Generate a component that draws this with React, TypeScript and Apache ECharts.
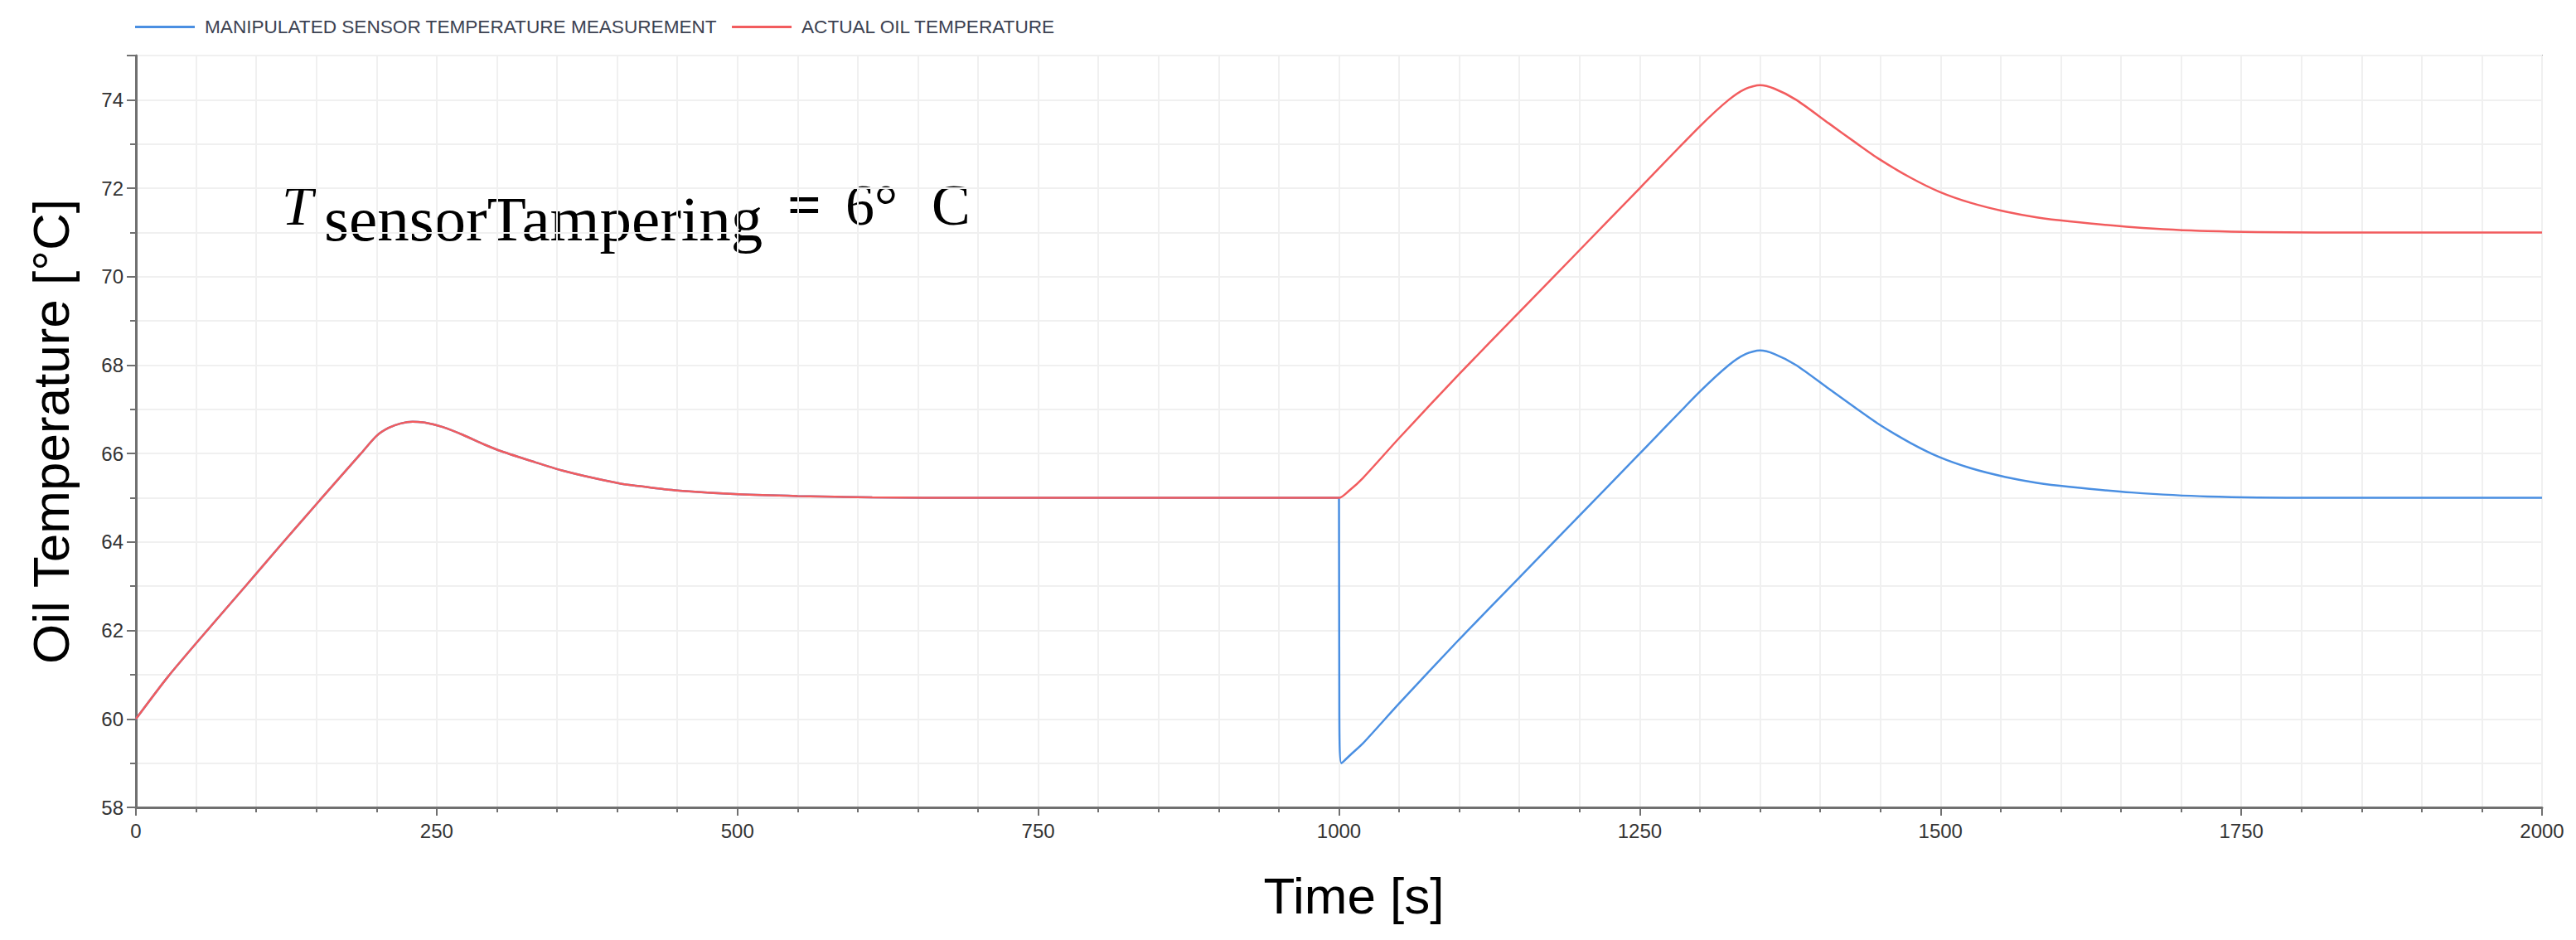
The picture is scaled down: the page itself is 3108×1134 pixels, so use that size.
import { useEffect, useRef } from 'react';
import * as echarts from 'echarts';

const WIDTH = 3108;
const HEIGHT = 1134;

const SENSOR_NAME = 'MANIPULATED SENSOR TEMPERATURE MEASUREMENT';
const ACTUAL_NAME = 'ACTUAL OIL TEMPERATURE';

const BLUE = '#4a8fe2';
const RED = '#f25c5e';

// actual oil temperature: time [s] / temperature [°C]
const actualTime = [
  0, 26.5, 57.6, 91, 121, 153, 187, 200, 210, 220, 230, 240, 255, 272, 290, 304, 330, 354, 380, 403,
  428, 452, 501, 550, 612, 700, 1000, 1008, 1020, 1050, 1100, 1150, 1200, 1250, 1300, 1324, 1338, 1350,
  1362, 1380, 1407, 1430, 1449, 1475, 1499, 1525, 1554, 1580, 1607, 1659, 1722, 1822, 2000
];
const actualTemp = [
  60, 60.95, 61.95, 63.0, 63.95, 64.95, 66.0, 66.4, 66.58, 66.68, 66.72, 66.7, 66.6, 66.42, 66.2, 66.05,
  65.82, 65.62, 65.45, 65.32, 65.23, 65.16, 65.08, 65.04, 65.01, 65.0, 65.0, 65.15, 65.45, 66.35, 67.8,
  69.2, 70.6, 72.0, 73.4, 74.0, 74.25, 74.33, 74.25, 74.0, 73.47, 73.02, 72.66, 72.24, 71.92, 71.67,
  71.47, 71.34, 71.25, 71.12, 71.03, 71.0, 71.0
];

// manipulated sensor measurement (same as actual until the tampering at 1000 s)
const sensorTime = [
  0, 26.5, 57.6, 91, 121, 153, 187, 200, 210, 220, 230, 240, 255, 272, 290, 304, 330, 354, 380, 403,
  428, 452, 501, 550, 612, 700, 1000, 1000.3, 1002, 1010, 1020, 1050, 1100, 1150, 1200, 1250, 1300, 1324,
  1338, 1350, 1362, 1380, 1407, 1430, 1449, 1475, 1499, 1525, 1554, 1580, 1607, 1659, 1722, 1822, 2000
];
const sensorTemp = [
  60, 60.95, 61.95, 63.0, 63.95, 64.95, 66.0, 66.4, 66.58, 66.68, 66.72, 66.7, 66.6, 66.42, 66.2, 66.05,
  65.82, 65.62, 65.45, 65.32, 65.23, 65.16, 65.08, 65.04, 65.01, 65.0, 65.0, 60.1, 59.0, 59.2, 59.45,
  60.35, 61.8, 63.2, 64.6, 66.0, 67.4, 68.0, 68.25, 68.33, 68.25, 68.0, 67.47, 67.02, 66.66, 66.24,
  65.92, 65.67, 65.47, 65.34, 65.25, 65.12, 65.03, 65.0, 65.0
];

const yLabels = [58, 60, 62, 64, 66, 68, 70, 72, 74];

const SANS = '"Liberation Sans", Arial, sans-serif';
const SERIF = '"Liberation Serif", "Times New Roman", serif';

function zip(xs: number[], ys: number[]) {
  return xs.map((x, i) => [x, ys[i]]);
}

function buildOption(): echarts.EChartsOption {
  const tickStyle = { color: '#707070', width: 2 };
  const gridStyle = { color: '#f0f0f0', width: 2 };
  return {
    animation: false,
    backgroundColor: '#ffffff',
    legend: {
      left: 163,
      top: 21,
      padding: 0,
      icon: 'rect',
      itemWidth: 72,
      itemHeight: 3,
      itemGap: 18,
      textStyle: { fontFamily: SANS, fontSize: 22.6, color: '#3c4252', padding: [0, 0, 0, 7] },
      data: [SENSOR_NAME, ACTUAL_NAME]
    },
    grid: {
      left: 164,
      right: 41,
      top: 67,
      bottom: 160,
      show: true,
      borderColor: '#a8a8a8',
      borderWidth: 2,
      outerBoundsMode: 'none'
    } as any,
    xAxis: {
      type: 'value',
      min: 0,
      max: 2000,
      interval: 250,
      name: 'Time [s]',
      nameLocation: 'middle',
      nameGap: 75,
      nameTextStyle: { fontFamily: SANS, fontSize: 62, color: '#000', padding: [0, 0, 0, 36] },
      axisLine: { show: true, onZero: false, lineStyle: { color: '#707070', width: 3 } },
      axisTick: { show: true, length: 10, lineStyle: tickStyle },
      minorTick: { show: true, splitNumber: 5, length: 6, lineStyle: tickStyle },
      axisLabel: {
        margin: 16,
        fontFamily: SANS,
        fontSize: 24,
        color: '#333',
        formatter: (v: number) => String(v)
      },
      splitLine: { show: true, lineStyle: gridStyle },
      minorSplitLine: { show: true, lineStyle: gridStyle }
    },
    yAxis: [
      {
        type: 'value',
        position: 'left',
        min: 58,
        max: 75,
        interval: 1,
        name: 'Oil Temperature [°C]',
        nameLocation: 'middle',
        nameRotate: 90,
        nameGap: 72,
        nameTextStyle: { fontFamily: SANS, fontSize: 62, color: '#000' },
        axisLine: { show: true, onZero: false, lineStyle: { color: '#707070', width: 3 } },
        axisTick: { show: true, length: 7, lineStyle: tickStyle },
        axisLabel: {
          margin: 15,
          fontFamily: SANS,
          fontSize: 24,
          color: '#333',
          formatter: (v: number) => (yLabels.includes(v) ? String(v) : '')
        },
        splitLine: { show: true, lineStyle: gridStyle }
      },
      {
        // longer ticks at the labelled values
        type: 'value',
        position: 'left',
        min: 58,
        max: 75,
        interval: 2,
        axisLine: { show: false },
        axisTick: { show: true, length: 11, lineStyle: tickStyle },
        axisLabel: { show: false },
        splitLine: { show: false }
      }
    ],
    graphic: [
      {
        type: 'text',
        x: 340,
        y: 248,
        style: { text: 'T', font: `italic 68px ${SERIF}`, fill: '#000', textVerticalAlign: 'middle' }
      },
      {
        type: 'text',
        x: 391,
        y: 264,
        style: { text: 'sensorTampering', font: `77px ${SERIF}`, fill: '#000', textVerticalAlign: 'middle' }
      },
      {
        type: 'text',
        x: 950,
        y: 247,
        style: { text: '=', font: `bold 72px ${SERIF}`, fill: '#000', textVerticalAlign: 'middle' }
      },
      {
        type: 'text',
        x: 1020,
        y: 247,
        style: { text: '6°', font: `70px ${SERIF}`, fill: '#000', textVerticalAlign: 'middle' }
      },
      {
        type: 'text',
        x: 1124,
        y: 247,
        style: { text: 'C', font: `70px ${SERIF}`, fill: '#000', textVerticalAlign: 'middle' }
      }
    ] as any,
    series: [
      {
        name: SENSOR_NAME,
        type: 'line',
        data: zip(sensorTime, sensorTemp),
        symbol: 'none',
        smooth: 0.25,
        z: 2,
        itemStyle: { color: BLUE },
        lineStyle: { color: BLUE, width: 2.5 }
      },
      {
        name: ACTUAL_NAME,
        type: 'line',
        data: zip(actualTime, actualTemp),
        symbol: 'none',
        smooth: 0.25,
        z: 3,
        itemStyle: { color: RED },
        lineStyle: { color: RED, width: 2.5 }
      }
    ]
  };
}

export default function App() {
  const ref = useRef<HTMLDivElement | null>(null);

  useEffect(() => {
    if (!ref.current) return undefined;
    const chart = echarts.init(ref.current, undefined, { renderer: 'svg' });
    chart.setOption(buildOption());
    return () => chart.dispose();
  }, []);

  return (
    <div
      ref={ref}
      style={{ position: 'absolute', left: 0, top: 0, width: WIDTH, height: HEIGHT }}
      aria-label="Oil temperature chart"
    />
  );
}
